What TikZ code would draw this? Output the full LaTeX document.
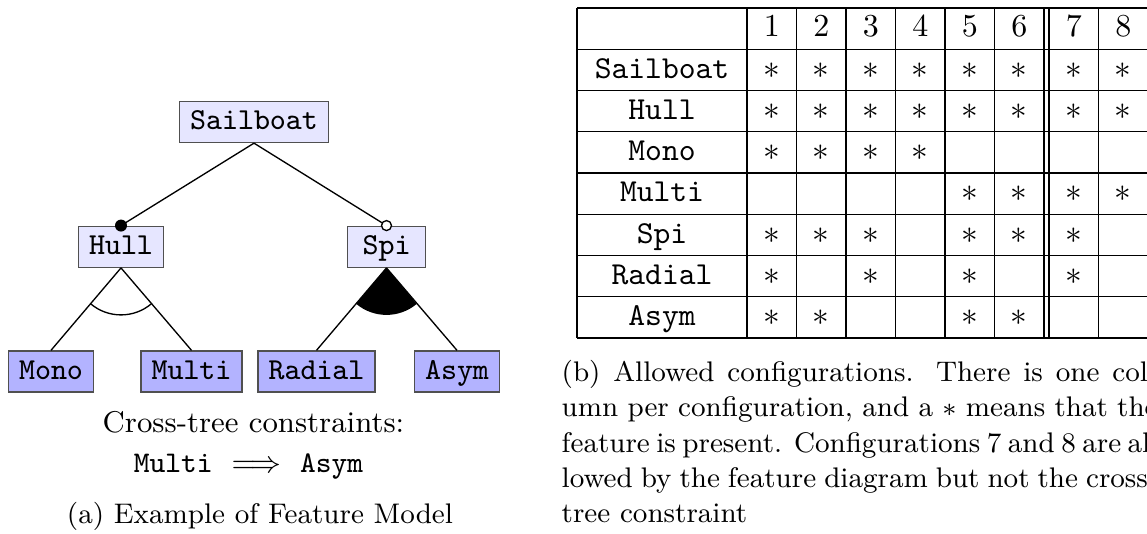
\documentclass[tikz,border=0pt]{standalone}
\usepackage{amsmath}
\usetikzlibrary{calc}
\definecolor{featfill}{RGB}{230,230,255}
\definecolor{leaffill}{RGB}{179,179,255}
\definecolor{boxline}{RGB}{80,80,80}
\tikzset{
  feat/.style={draw=boxline,fill=featfill,font=\fontsize{9.14}{11}\selectfont\ttfamily,
    minimum width=23.4pt,inner xsep=3.2pt,inner ysep=2.05pt,text height=6.5pt,text depth=1.7pt},
  leaf/.style={feat,fill=leaffill},
  cell/.style={anchor=base,inner sep=0pt,font=\fontsize{9.6}{11}\selectfont},
  capt/.style={anchor=base west,inner sep=0pt,font=\fontsize{8.5}{10.5}\selectfont}
}
\newcommand{\capw}{178.8pt}

\begin{document}
\begin{tikzpicture}[x=0.3pt,y=-0.3pt]
\useasboundingbox(0,0)rectangle(1147,534);
\clip(0,0)rectangle(1147,534);
%feature diagram
\node[feat](sailboat)at(254,122){Sailboat};
\node[feat](hull)at(121,246.75){Hull};
\node[feat](spi)at(386.5,246.75){Spi};
\node[leaf](mono)at(51,371.5){Mono};
\node[leaf](multi)at(191.5,371.5){Multi};
\node[leaf](radial)at(316.5,371.5){Radial};
\node[leaf](asym)at(457,371.5){Asym};
\draw(sailboat.south)--(hull.north);
\draw(sailboat.south)--(spi.north);
\draw(hull.south)--(mono.north);
\draw(hull.south)--(multi.north);
\draw(spi.south)--(radial.north);
\draw(spi.south)--(asym.north);
\fill(hull.north)circle(6); %mandatory
\filldraw[fill=white](spi.north)circle(5); %optional
\draw($(hull.south)+(130:47)$)arc[start angle=130,end angle=50,radius=47]; %xor
\fill(spi.south)--($(spi.south)+(130:47)$)arc[start angle=130,end angle=50,radius=47]--cycle; %or
%constraints and caption
\node[anchor=base,inner sep=0pt,font=\fontsize{9}{11}\selectfont](ctc)at(253.5,433){Cross-tree constraints:};
\node[anchor=base,inner sep=0pt,font=\fontsize{9}{11}\selectfont](rule)at(248.5,473){\texttt{Multi} $\implies$ \texttt{Asym}};
\node[capt,anchor=base](capa)at(260,523.5){(a) Example of Feature Model};
%table grid
\foreach \y in {0,...,8} \draw(577,8+41.25*\y)--(1149,8+41.25*\y);
\foreach \x in {577,747,796.5,846,895.5,945,994.5,1044,1049,1098.5,1148} \draw(\x,8)--(\x,338);
%table content
\foreach \c in {1,...,8} \node[cell](col\c)at({747+49.5*(\c-0.5)+5*(\c>6)},37){\c};
\foreach \name/\cols [count=\r] in {Sailboat/{1,2,3,4,5,6,7,8},Hull/{1,2,3,4,5,6,7,8},Mono/{1,2,3,4},
  Multi/{5,6,7,8},Spi/{1,2,3,5,6,7},Radial/{1,3,5,7},Asym/{1,2,5,6}}{
  \node[cell](row\r)at(662,37+41.25*\r){\texttt{\name}};
  \foreach \c in \cols \node[cell](s\r-\c)at({747+49.5*(\c-0.5)+5*(\c>6)},37+41.25*\r){$*$};
}
%caption b
\node[capt](capb1)at(561,381.7){\makebox[\capw][s]{(b) Allowed configurations. There is one col-}};
\node[capt](capb2)at(561,416.95){\makebox[\capw][s]{umn per configuration, and a $*$ means that the}};
\node[capt](capb3)at(561,452.2){\makebox[\capw][s]{feature is present. Configurations 7 and 8 are al-}};
\node[capt](capb4)at(561,487.45){\makebox[\capw][s]{lowed by the feature diagram but not the cross-}};
\node[capt](capb5)at(561,522.7){tree constraint};
\end{tikzpicture}
\end{document}
